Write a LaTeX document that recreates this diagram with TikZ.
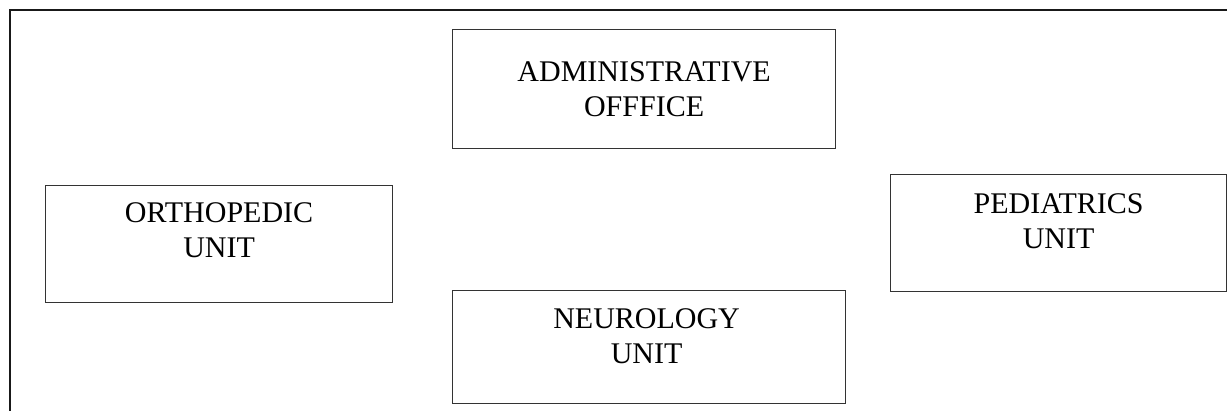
\documentclass[tikz,border=0pt]{standalone}
\usepackage{fontspec}
\setmainfont{Liberation Serif}
\usetikzlibrary{positioning}
\begin{document}
\begin{tikzpicture}[x=1pt,y=-1pt,
    unit/.style ={rectangle, draw=black!80, line width=1.2pt, anchor=north west, inner sep=0pt},
    caption/.style ={anchor=north, align=center, inner sep=0pt, font=\fontsize{30}{35.5}\selectfont}]
   \useasboundingbox (0,0) rectangle (1227,411);
   \draw[line width=1.6pt, black!90] (10,412) -- (10,10) -- (1228,10);
   \node[unit, minimum width=383pt, minimum height=119pt] (admin) at (452,29) {};
   \node[unit, minimum width=347pt, minimum height=117pt] (ortho) at (45,185) {};
   \node[unit, minimum width=336pt, minimum height=117pt] (pedia) at (890,174) {};
   \node[unit, minimum width=393pt, minimum height=113pt] (neuro) at (452,290) {};
   \node[caption, below=32pt of admin.north] (admintxt) {ADMINISTRATIVE\\OFFFICE};
   \node[caption, below=17pt of ortho.north] (orthotxt) {ORTHOPEDIC\\UNIT};
   \node[caption, below=19pt of pedia.north] (pediatxt) {PEDIATRICS\\UNIT};
   \node[caption, below=18pt of neuro.north, xshift=-2.5pt] (neurotxt) {NEUROLOGY\\UNIT};
 \end{tikzpicture}
\end{document}
